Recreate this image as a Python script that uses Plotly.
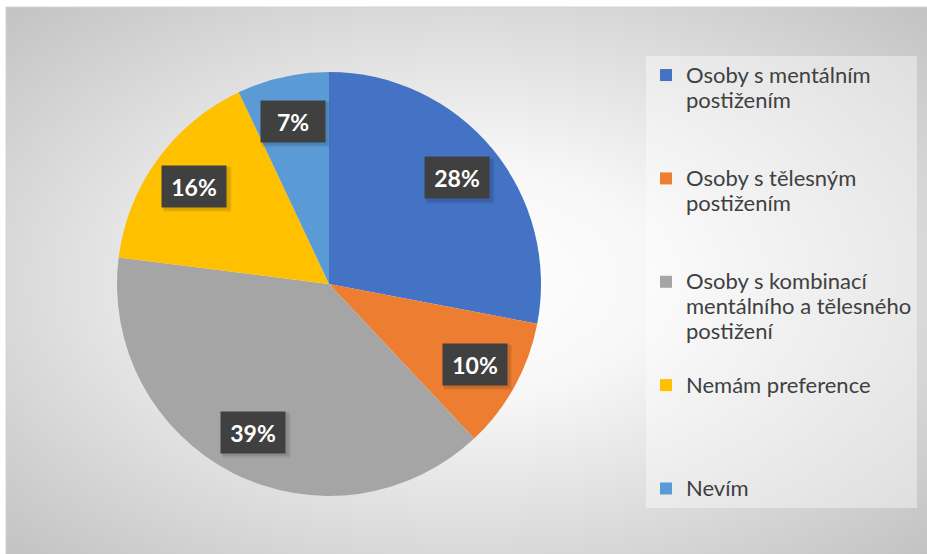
import base64
import math
import plotly.graph_objects as go

# ---- data ----
categories = [
    "Osoby s mentálním<br>postižením",
    "Osoby s tělesným<br>postižením",
    "Osoby s kombinací<br>mentálního a tělesného<br>postižení",
    "Nemám preference",
    "Nevím",
]
values = [28, 10, 39, 16, 7]
colors = ["#4472C4", "#ED7D31", "#A5A5A5", "#FFC000", "#5B9BD5"]

W, H = 927, 554
CX, CY, R = 329, 284, 212  # pie centre / radius in px

SPAN = '<span style="font-size:22px">'


def pad(label, n=4, last=False):
    lines = label.count("<br>") + 1
    txt = SPAN + label.replace("<br>", "</span><br>" + SPAN) + "</span>"
    if not last:
        txt += "<br> " * (n - lines)
    return txt


legend_labels = [pad(c, last=(i == len(categories) - 1)) for i, c in enumerate(categories)]

# background gradient as svg image
svg = '''<svg xmlns="http://www.w3.org/2000/svg" width="921" height="547" viewBox="0 0 921 547" preserveAspectRatio="none">
<defs><radialGradient id="g" cx="50%" cy="50%" r="71%">
<stop offset="0" stop-color="#ffffff"/><stop offset="0.3" stop-color="#f7f7f7"/>
<stop offset="1" stop-color="#c2c2c2"/></radialGradient></defs>
<rect width="921" height="547" fill="url(#g)"/></svg>'''
bg_src = "data:image/svg+xml;base64," + base64.b64encode(svg.encode()).decode()

fig = go.Figure()
fig.add_trace(go.Pie(
    labels=legend_labels,
    values=values,
    marker=dict(colors=colors, line=dict(width=0)),
    sort=False,
    direction="clockwise",
    rotation=0,
    textinfo="none",
    hoverinfo="label+percent",
    domain=dict(x=[(CX - R) / W, (CX + R) / W], y=[(H - CY - R) / H, (H - CY + R) / H]),
))

# data labels in dark boxes placed at slice mid-angles
total = sum(values)
cum = 0
annotations = []
shapes = [dict(type="rect", xref="paper", yref="paper", x0=6 / W, x1=1.01, y0=-0.01, y1=1 - 7 / H,
               line=dict(color="#d4d4d4", width=1), fillcolor="rgba(0,0,0,0)", layer="below")]
BW, BH = 64, 41
for v in values:
    ang = 2 * math.pi * (cum + v / 2) / total
    cum += v
    rr = 0.785 * R
    px = CX + rr * math.sin(ang)
    py = CY - rr * math.cos(ang)
    pct = f"{round(100 * v / total)}%"
    # soft shadow
    for k, a in ((5, 0.07), (3.5, 0.08)):
        shapes.append(dict(
            type="rect", xref="paper", yref="paper", layer="above",
            x0=(px - BW / 2 + 1) / W, x1=(px + BW / 2 + k) / W,
            y0=(H - (py + BH / 2 + k)) / H, y1=(H - (py - BH / 2 + 1)) / H,
            fillcolor=f"rgba(0,0,0,{a})", line=dict(width=0),
        ))
    annotations.append(dict(
        x=px / W, y=(H - py) / H, xref="paper", yref="paper",
        xanchor="center", yanchor="middle", showarrow=False,
        width=BW - 8, height=BH - 8, borderpad=4,
        text=f"<b>{pct}</b>",
        bgcolor="#404040", font=dict(family="Lato", size=23, color="#ffffff"),
    ))

fig.update_layout(
    width=W, height=H,
    margin=dict(l=0, r=0, t=0, b=0),
    paper_bgcolor="#ffffff",
    plot_bgcolor="rgba(0,0,0,0)",
    images=[dict(source=bg_src, xref="paper", yref="paper", x=6 / W, y=1 - 7 / H,
                 sizex=(W - 6) / W, sizey=(H - 7) / H, sizing="stretch", layer="below",
                 xanchor="left", yanchor="top")],
    shapes=shapes,
    annotations=annotations,
    showlegend=True,
    legend=dict(
        x=646 / W, y=1 - 56 / H, xanchor="left", yanchor="top",
        bgcolor="rgba(255,255,255,0.4)", borderwidth=0,
        font=dict(family="Lato", size=19.3, color="#404040"),
        valign="top", traceorder="normal",
        entrywidth=252, entrywidthmode="pixels",
    ),
)

fig.write_html("out.html", config={"displayModeBar": False},
               post_script="document.body.style.margin='0';")
